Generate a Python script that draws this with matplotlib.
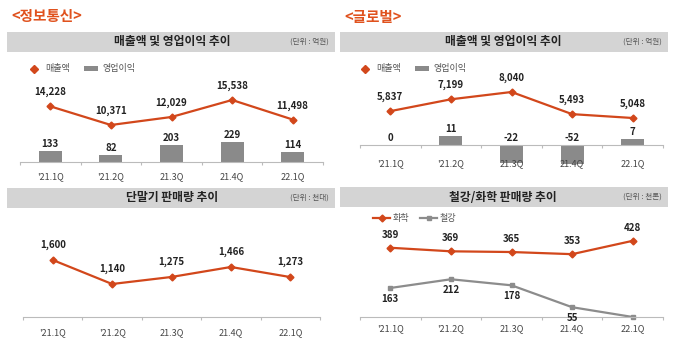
import matplotlib
matplotlib.use('Agg')
import matplotlib.pyplot as plt
from matplotlib.patches import Rectangle, Patch
from matplotlib.lines import Line2D
import numpy as np

plt.rcParams['font.family'] = ['Noto Sans CJK KR', 'DejaVu Sans']

# data
quarters = ["'21.1Q", "'21.2Q", "21.3Q", "21.4Q", "22.1Q"]

it_sales = [14228, 10371, 12029, 15538, 11498]
it_op = [133, 82, 203, 229, 114]

gl_sales = [5837, 7199, 8040, 5493, 5048]
gl_op = [0, 11, -22, -52, 7]

phone_units = [1600, 1140, 1275, 1466, 1273]

chem = [389, 369, 365, 353, 428]
steel = [163, 212, 178, 55, 0]
steel_labels = ['163', '212', '178', '55', '']

ORANGE = '#d2471b'
TITLE_ORANGE = '#e0521e'
GRAY_BAR = '#8a8a8a'
HEADER = '#d4d4d4'

W, H = 680, 342
fig = plt.figure(figsize=(W / 100, H / 100), dpi=100)


def rect(x0, y0, x1, y1):
    return [x0 / W, 1 - y1 / H, (x1 - x0) / W, (y1 - y0) / H]


def fx(x):
    return x / W


def fy(y):
    return 1 - y / H


def header(x0, y0, x1, y1, title, unit, tx):
    fig.patches.append(Rectangle((fx(x0), fy(y1)), fx(x1) - fx(x0), fy(y0) - fy(y1),
                                 transform=fig.transFigure, facecolor=HEADER,
                                 edgecolor='none', zorder=0))
    yc = (y0 + y1) / 2
    fig.text(fx(tx), fy(yc), title, ha='center', va='center', fontsize=8.5,
             fontweight='bold', color='#222222')
    fig.text(fx(x1 - 6), fy(yc), unit, ha='right', va='center', fontsize=5.5,
             color='#555555', style='italic')


def style_xaxis(ax, pad):
    n = len(quarters)
    x = np.arange(n)
    ax.set_xlim(-0.5, n - 0.5)
    ax.set_xticks(np.arange(n + 1) - 0.5)
    ax.set_xticklabels([])
    ax.set_xticks(x, minor=True)
    ax.set_xticklabels(quarters, minor=True)
    ax.tick_params(axis='x', which='major', length=2.5, color='#bbbbbb', direction='out')
    ax.tick_params(axis='x', which='minor', length=0, pad=pad, labelsize=6.5,
                   labelcolor='#444444')
    ax.set_yticks([])
    for s in ['top', 'left', 'right']:
        ax.spines[s].set_visible(False)
    ax.spines['bottom'].set_color('#bbbbbb')
    ax.spines['bottom'].set_linewidth(0.8)
    ax.patch.set_alpha(0)


def twin_clean(ax):
    for s in ax.spines.values():
        s.set_visible(False)
    ax.set_yticks([])
    ax.patch.set_alpha(0)


def label_points(ax, xs, vals, texts, dy_px):
    for x, v, t in zip(xs, vals, texts):
        ax.annotate(t, (x, v), xytext=(0, dy_px * 0.72), textcoords='offset points',
                    ha='center', va='center', fontsize=7, fontweight='bold',
                    color='#222222')


x = np.arange(len(quarters))

# titles
fig.text(fx(11), fy(16), '<정보통신>', ha='left', va='center', fontsize=10.5,
         fontweight='bold', color=TITLE_ORANGE)
fig.text(fx(344), fy(17), '<글로벌>', ha='left', va='center', fontsize=10.5,
         fontweight='bold', color=TITLE_ORANGE)

header(7, 32, 335, 52, '매출액 및 영업이익 추이', '(단위 : 억원)', 172)
header(340, 32, 668, 52, '매출액 및 영업이익 추이', '(단위 : 억원)', 503)
header(7, 188, 335, 208, '단말기 판매량 추이', '(단위 : 천대)', 172)
header(340, 187, 668, 207, '철강/화학 판매량 추이', '(단위 : 천톤)', 503)

# top-left: IT sales / op profit
ax1 = fig.add_axes(rect(20, 60, 323, 162))
ax1.bar(x, it_op, width=0.38, color=GRAY_BAR)
ax1.set_ylim(0, 1186)
style_xaxis(ax1, 7)
label_points(ax1, x, it_op, [str(v) for v in it_op], 7)
ax1b = ax1.twinx()
ax1b.plot(x, it_sales, color=ORANGE, lw=1.6, marker='D', ms=3.5)
ax1b.set_ylim(2723, 23806)
twin_clean(ax1b)
label_points(ax1b, x, it_sales, [f'{v:,}' for v in it_sales], 14)

leg_handles = [Line2D([], [], color=ORANGE, marker='D', ms=4, ls='none'),
               Patch(facecolor=GRAY_BAR)]
fig.legend(leg_handles, ['매출액', '영업이익'], loc='center left',
           bbox_to_anchor=(fx(27), fy(69)), ncol=2, frameon=False, fontsize=6.5,
           handlelength=1.5, handleheight=0.5, handletextpad=0.5, columnspacing=1.6,
           borderpad=0, borderaxespad=0, labelcolor='#555555')

# top-right: global sales / op profit
ax2 = fig.add_axes(rect(360, 60, 663, 164))
ax2.bar(x, gl_op, width=0.38, color=GRAY_BAR)
ax2.set_ylim(-23.75, 106)
style_xaxis(ax2, 10)
ax2.spines['bottom'].set_position(('data', 0))
label_points(ax2, x, [max(v, 0) for v in gl_op], [str(v) for v in gl_op], 7)
ax2b = ax2.twinx()
ax2b.plot(x, gl_sales, color=ORANGE, lw=1.6, marker='D', ms=3.5)
ax2b.set_ylim(-245, 11722)
twin_clean(ax2b)
label_points(ax2b, x, gl_sales, [f'{v:,}' for v in gl_sales], 14)

fig.legend(leg_handles, ['매출액', '영업이익'], loc='center left',
           bbox_to_anchor=(fx(358), fy(69)), ncol=2, frameon=False, fontsize=6.5,
           handlelength=1.5, handleheight=0.5, handletextpad=0.5, columnspacing=1.6,
           borderpad=0, borderaxespad=0, labelcolor='#555555')

# bottom-left: handset sales volume
ax3 = fig.add_axes(rect(23, 215, 320, 317))
ax3.plot(x, phone_units, color=ORANGE, lw=1.6, marker='D', ms=3.5)
ax3.set_ylim(508, 2462)
style_xaxis(ax3, 8)
label_points(ax3, x, phone_units, [f'{v:,}' for v in phone_units], 15)

# bottom-right: steel / chemical sales volume
ax4 = fig.add_axes(rect(360, 215, 663, 317))
ax4.plot(x, chem, color=ORANGE, lw=1.6, marker='D', ms=3.5, label='화학')
ax4.plot(x, steel, color='#8c8c8c', lw=1.6, marker='s', ms=3.5, label='철강',
         clip_on=False)
ax4.set_ylim(0, 573)
style_xaxis(ax4, 5)
label_points(ax4, x, chem, [str(v) for v in chem], 13)
label_points(ax4, x, steel, steel_labels, -11)
ax4.legend(loc='center left', bbox_to_anchor=(fx(373), fy(219)),
           bbox_transform=fig.transFigure, ncol=2, frameon=False, fontsize=6.5,
           handlelength=1.9, handletextpad=0.3, columnspacing=1.2,
           borderpad=0, borderaxespad=0, labelcolor='#555555')

fig.savefig('out.png', dpi=100)
